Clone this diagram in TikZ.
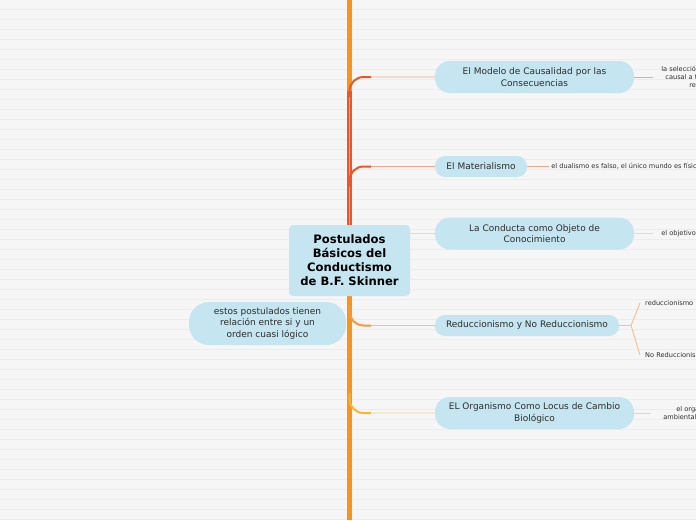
\documentclass[tikz,border=0pt]{standalone}
\usepackage{fontspec}
\setmainfont{DejaVu Sans}
\usepackage{xcolor}
\usepackage{tikz}
\usetikzlibrary{positioning}

\definecolor{paper}{RGB}{246,246,246}
\definecolor{ruling}{RGB}{236,236,236}
\definecolor{bubble}{RGB}{197,229,240}
\definecolor{ink}{RGB}{45,45,45}
\definecolor{trunkc}{RGB}{247,148,30}
\definecolor{redb}{RGB}{233,87,43}
\definecolor{redl}{RGB}{243,166,138}
\definecolor{peach}{RGB}{250,212,165}
\definecolor{orab}{RGB}{245,154,60}
\definecolor{oral}{RGB}{248,190,130}
\definecolor{yelb}{RGB}{247,183,49}
\definecolor{yell}{RGB}{249,214,130}

\begin{document}
\begin{tikzpicture}[
  x=1pt, y=-1pt,
  font=\fontsize{9}{11.5}\selectfont, text=ink,
  pill/.style={fill=bubble, rounded corners=#1, minimum height=21pt, inner sep=0pt, align=center},
  root/.style={fill=bubble, rounded corners=4pt, minimum width=121pt, minimum height=71pt,
    inner sep=0pt, align=center, text=black, font=\fontsize{11.6}{14}\selectfont\bfseries},
  leaf/.style={anchor=west, inner sep=2pt, align=left, font=\fontsize{6.6}{8}\selectfont},
  hair/.style={line width=0.9pt},
  curl/.style={line width=2pt, rounded corners=14pt},
]
% background
\path[use as bounding box, fill=paper] (0,0) rectangle (696,520);
\clip (0,0) rectangle (696,520);
\foreach \y in {9.5,19.5,...,519.5}
  \draw[ruling, line width=0.8pt] (0,\y) -- (696,\y);

% trunk
\coordinate (top) at (349.5,0);
\coordinate (bot) at (349.5,520);
\draw[trunkc, line width=5pt] (top) -- (bot);

% nodes
\node[root] (root) at (349.5,260.5) {Postulados\\Básicos del\\Conductismo\\de B.F. Skinner};

\node[pill=15pt, minimum width=199pt, minimum height=32pt] (mod) at (534.5,77) {El Modelo de Causalidad por las\\Consecuencias};
\node[pill=10pt, minimum width=92pt] (mat) at (481,166.5) {El Materialismo};
\node[pill=15pt, minimum width=199pt, minimum height=32pt] (cond) at (534.5,233.5) {La Conducta como Objeto de\\Conocimiento};
\node[pill=10pt, minimum width=184pt] (red) at (527,325.5) {Reduccionismo y No Reduccionismo};
\node[pill=15pt, minimum width=199pt, minimum height=32pt] (org) at (534.5,413) {EL Organismo Como Locus de Cambio\\Biológico};
\node[pill=20pt, minimum width=157pt, minimum height=43pt] (nota) at (267.5,323.5) {estos postulados tienen\\relación entre si y un\\orden cuasi lógico};

% leaves
\node[leaf, inner xsep=5pt, right=22pt of mod] (modN) {la selección\\\hspace*{4pt}causal a t\\\hspace*{28pt}re};
\node[leaf, right=22pt of mat] (matN) {el dualismo es falso, el único mundo es físico};
\node[leaf, inner xsep=5pt, right=22pt of cond] (condN) {el objetivo};
\coordinate (fork) at (631,325.5);
\node[leaf] (redA) at (643,303) {reduccionismo};
\node[leaf] (redB) at (643,355) {No Reduccionismo};
\node[leaf, inner xsep=7pt, right=22pt of org] (orgN) {\hspace*{13pt}el organismo\\ambiental};

% branches
\draw[redb, line width=5pt] (root.north) -- (349.5,91);
\draw[redl, hair, rounded corners=14pt] (root.north) |- (mod.west);
\draw[redb, curl] ([yshift=-20pt]root.north |- mod.west) |- ([xshift=-64pt]mod.west);
\draw[redl, hair, rounded corners=14pt] (root.north) |- (mat.west);
\draw[redb, curl] ([yshift=-20pt]root.north |- mat.west) |- ([xshift=-64pt]mat.west);
\draw[peach, hair] (root.east |- cond.west) -- (cond.west);
\draw[oral, hair, rounded corners=14pt] ([yshift=20pt]root.south |- red.west) |- (red.west);
\draw[orab, curl] ([yshift=20pt]root.south |- red.west) |- ([xshift=-64pt]red.west);
\draw[yell, hair, rounded corners=14pt] ([yshift=20pt]root.south |- org.west) |- (org.west);
\draw[yelb, curl] ([yshift=20pt]root.south |- org.west) |- ([xshift=-64pt]org.west);

% leaf connectors
\draw[redl, hair] (mod.east) -- ([xshift=-3pt]modN.west);
\draw[redl, hair] (mat.east) -- (matN.west);
\draw[peach, hair] (cond.east) -- ([xshift=-3pt]condN.west);
\draw[oral, hair] (red.east) -- (fork) -- ([xshift=-3pt]redA.west);
\draw[oral, hair] (fork) -- ([xshift=-3pt]redB.west);
\draw[yell, hair] (org.east) -- ([xshift=-5pt]orgN.west);
\end{tikzpicture}
\end{document}
